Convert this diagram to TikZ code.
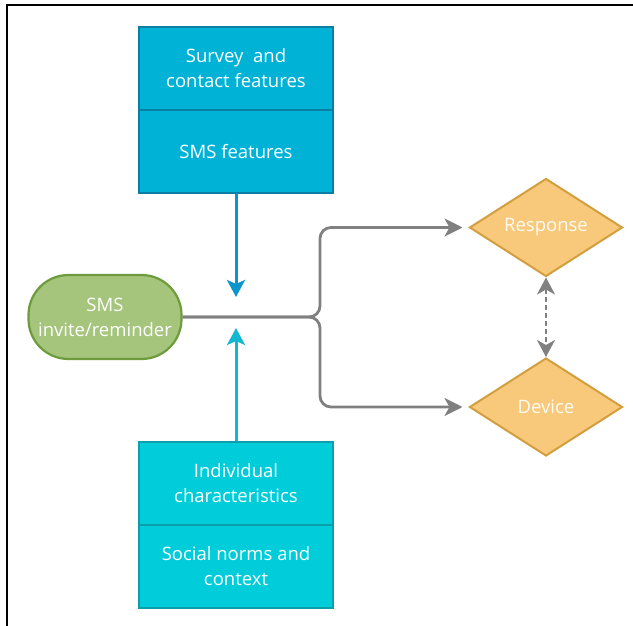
\documentclass[tikz,border=0pt]{standalone}
\usepackage{fontspec}
\setmainfont{Open Sans}
\usetikzlibrary{shapes.geometric,arrows.meta}
\definecolor{topfill}{HTML}{00B2D6}
\definecolor{topdraw}{HTML}{0B7FA3}
\definecolor{botfill}{HTML}{00CDD9}
\definecolor{botdraw}{HTML}{0A9FAA}
\definecolor{grnfill}{HTML}{A5C47C}
\definecolor{grndraw}{HTML}{6E9B3B}
\definecolor{dfill}{HTML}{F8C97B}
\definecolor{ddraw}{HTML}{D39E3E}
\definecolor{lgray}{HTML}{808080}
\definecolor{arrblue}{HTML}{0A96CC}
\definecolor{arrcyan}{HTML}{12B8D0}
\tikzset{
  txt/.style={text=white, font=\fontsize{18.5}{25}\selectfont, align=center, inner sep=0pt},
  topbox/.style={txt, rectangle, fill=topfill, draw=topdraw, line width=2pt, minimum width=194pt, minimum height=83pt},
  botbox/.style={txt, rectangle, fill=botfill, draw=botdraw, line width=2pt, minimum width=194pt, minimum height=83pt},
  pill/.style={txt, rectangle, rounded corners=40pt, fill=grnfill, draw=grndraw, line width=2.2pt, minimum width=153pt, minimum height=84pt},
  dia/.style={txt, diamond, fill=dfill, draw=ddraw, line width=2pt, minimum width=153pt, minimum height=98pt, text=white!92!dfill, aspect=1.56},
  grayarr/.style={draw=lgray, line width=2.8pt, rounded corners=11pt, -{Stealth[length=18pt,width=18pt,inset=5pt]}},
}
\begin{document}
\begin{tikzpicture}[x=1pt,y=-1pt]
\useasboundingbox (0,0) rectangle (633,626);
\draw[line width=1.5pt] (633,5) -- (7,5) -- (7,626);
% boxes
\node[topbox] (survey) at (236,68.5) {Survey\ \ and\\contact features};
\node[topbox] (smsf) at (236,151.5) {SMS features};
\node[botbox] (indiv) at (236,483.5) {Individual\\characteristics};
\node[botbox] (social) at (236,566) {Social norms and\\context};
\node[pill] (sms) at (105,317) {SMS\\invite/reminder};
\node[dia] (resp) at (546,227.5) {Response};
\node[dia] (dev) at (546,407) {Device};
% coordinates
\coordinate (tipA) at (236,297);
\coordinate (tipB) at (236,328);
\coordinate (jn) at (320,317);
% arrows
\draw[draw=arrblue, line width=3pt, -{Stealth[length=17pt,width=18pt,inset=4pt]}] (smsf.south) -- (tipA);
\draw[draw=arrcyan, line width=3pt, -{Stealth[length=17pt,width=18pt,inset=4pt]}] (indiv.north) -- (tipB);
\draw[grayarr, shorten >=6pt] (sms.east) -- (jn) -- (jn |- resp.west) -- (resp.west);
\draw[grayarr, shorten >=6pt] (sms.east) -- (jn) -- (jn |- dev.west) -- (dev.west);
\draw[draw=lgray, line width=2.3pt, dashed, dash pattern=on 5pt off 3pt, {Stealth[length=17pt,width=18pt,inset=5pt]}-{Stealth[length=17pt,width=18pt,inset=5pt]}] (resp.south) -- (dev.north);
\end{tikzpicture}
\end{document}
